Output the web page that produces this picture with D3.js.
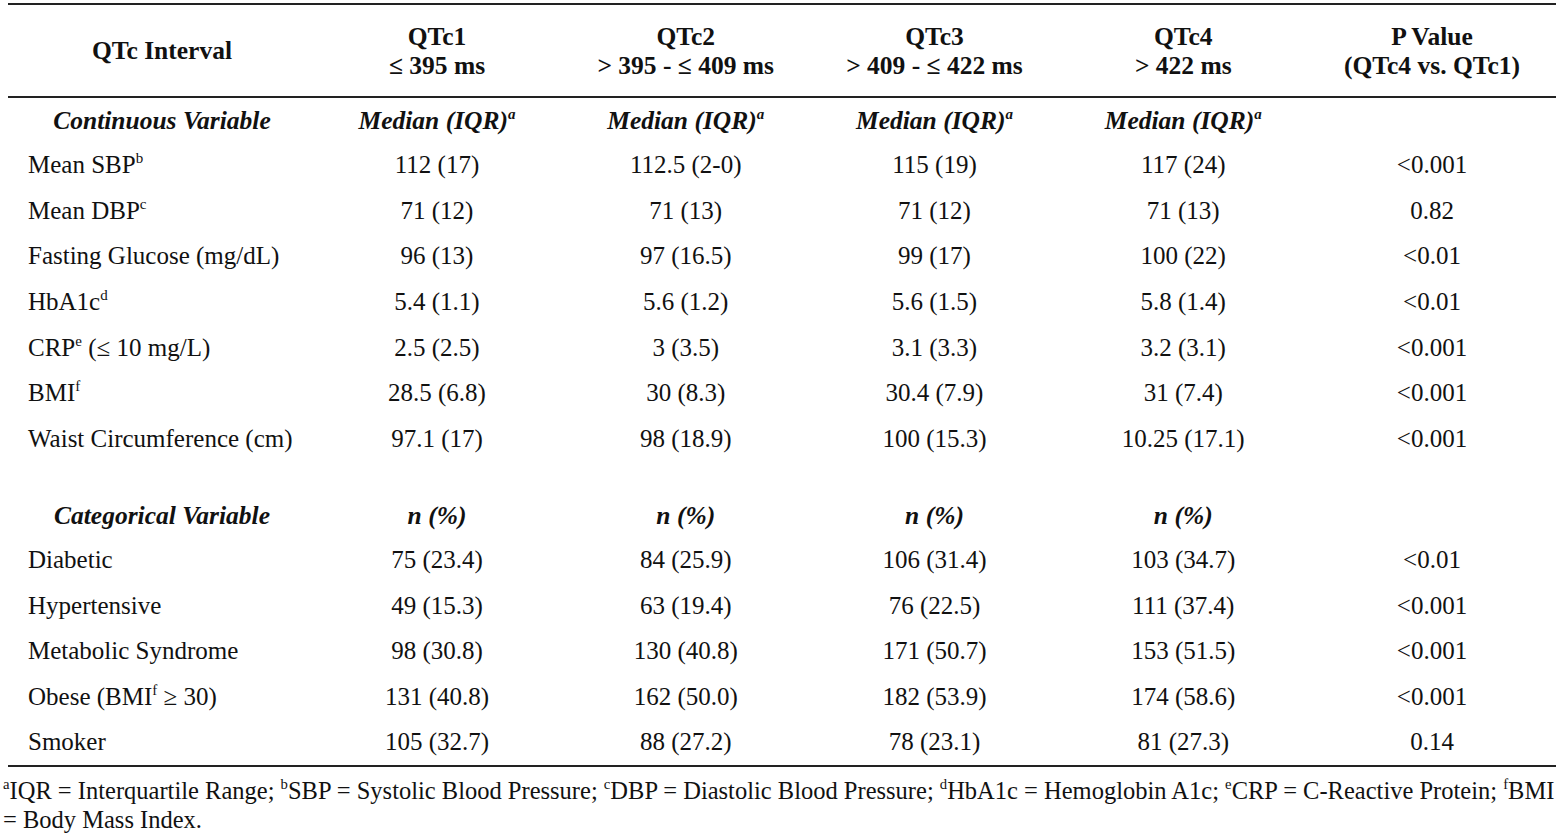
<!DOCTYPE html>
<html>
<head>
<meta charset="utf-8">
<script src="https://cdn.jsdelivr.net/npm/d3@7"></script>
<style>
  body { margin: 0; background: #fff; }
  svg text { font-family: "Liberation Serif", "Times New Roman", serif; fill: #111; }
</style>
</head>
<body>
<svg id="chart"></svg>
<script>
const width = 1560;
const height = 837;

// Column headers (two lines each)
const columnTitles = ["QTc1", "QTc2", "QTc3", "QTc4", "P Value"];
const columnSubtitles = ["\u2264 395 ms", "> 395 - \u2264 409 ms", "> 409 - \u2264 422 ms", "> 422 ms", "(QTc4 vs. QTc1)"];

// Continuous variables: label, superscript, rest of label
const contLabels = [
    ["Mean SBP", "b", ""],
    ["Mean DBP", "c", ""],
    ["Fasting Glucose (mg/dL)", "", ""],
    ["HbA1c", "d", ""],
    ["CRP", "e", " (\u2264 10 mg/L)"],
    ["BMI", "f", ""],
    ["Waist Circumference (cm)", "", ""]
];
const contQTc1 = ["112 (17)", "71 (12)", "96 (13)", "5.4 (1.1)", "2.5 (2.5)", "28.5 (6.8)", "97.1 (17)"];
const contQTc2 = ["112.5 (2-0)", "71 (13)", "97 (16.5)", "5.6 (1.2)", "3 (3.5)", "30 (8.3)", "98 (18.9)"];
const contQTc3 = ["115 (19)", "71 (12)", "99 (17)", "5.6 (1.5)", "3.1 (3.3)", "30.4 (7.9)", "100 (15.3)"];
const contQTc4 = ["117 (24)", "71 (13)", "100 (22)", "5.8 (1.4)", "3.2 (3.1)", "31 (7.4)", "10.25 (17.1)"];
const contP = ["<0.001", "0.82", "<0.01", "<0.01", "<0.001", "<0.001", "<0.001"];

// Categorical variables
const catLabels = [
    ["Diabetic", "", ""],
    ["Hypertensive", "", ""],
    ["Metabolic Syndrome", "", ""],
    ["Obese (BMI", "f", " \u2265 30)"],
    ["Smoker", "", ""]
];
const catQTc1 = ["75 (23.4)", "49 (15.3)", "98 (30.8)", "131 (40.8)", "105 (32.7)"];
const catQTc2 = ["84 (25.9)", "63 (19.4)", "130 (40.8)", "162 (50.0)", "88 (27.2)"];
const catQTc3 = ["106 (31.4)", "76 (22.5)", "171 (50.7)", "182 (53.9)", "78 (23.1)"];
const catQTc4 = ["103 (34.7)", "111 (37.4)", "153 (51.5)", "174 (58.6)", "81 (27.3)"];
const catP = ["<0.01", "<0.001", "<0.001", "<0.001", "0.14"];

// Footnote pieces: [superscript, text]
const footnotes = [
    ["a", "IQR = Interquartile Range; "],
    ["b", "SBP = Systolic Blood Pressure; "],
    ["c", "DBP = Diastolic Blood Pressure; "],
    ["d", "HbA1c = Hemoglobin A1c; "],
    ["e", "CRP = C-Reactive Protein; "],
    ["f", "BMI"]
];

const fontSize = 25;
const headSize = 25.5;

const svg = d3.select("#chart")
    .attr("width", width)
    .attr("height", height);

// Horizontal position of each column centre
const x = d3.scalePoint()
    .domain(columnTitles)
    .range([437, 1432]);

// Vertical position of rows (centre lines)
const yCont = d3.scaleLinear().domain([0, 6]).range([165, 439]);
const yCat = d3.scaleLinear().domain([0, 4]).range([560, 742]);
const base = 8; // centre -> baseline offset

// Rules
const rules = [4, 97, 766];
svg.append("g")
    .selectAll("line")
    .data(rules)
    .join("line")
    .attr("x1", 8)
    .attr("x2", 1556)
    .attr("y1", d => d)
    .attr("y2", d => d)
    .attr("stroke", "#222")
    .attr("stroke-width", 2);

// Header
svg.append("text")
    .attr("x", 162)
    .attr("y", 51 + base)
    .attr("text-anchor", "middle")
    .attr("font-weight", "bold")
    .attr("font-size", headSize)
    .text("QTc Interval");

const head = svg.append("g")
    .selectAll("g")
    .data(columnTitles)
    .join("g");
head.append("text")
    .attr("x", d => x(d))
    .attr("y", 37 + base)
    .attr("text-anchor", "middle")
    .attr("font-weight", "bold")
    .attr("font-size", headSize)
    .text(d => d);
head.append("text")
    .attr("x", d => x(d))
    .attr("y", 66 + base)
    .attr("text-anchor", "middle")
    .attr("font-weight", "bold")
    .attr("font-size", headSize)
    .text((d, i) => columnSubtitles[i]);

// Section headers
function sectionHeader(y, title, colText, sup) {
    svg.append("text")
        .attr("x", 162)
        .attr("y", y + base)
        .attr("text-anchor", "middle")
        .attr("font-weight", "bold")
        .attr("font-style", "italic")
        .attr("font-size", headSize)
        .text(title);
    columnTitles.slice(0, 4).forEach(c => {
        const t = svg.append("text")
            .attr("x", x(c))
            .attr("y", y + base)
            .attr("text-anchor", "middle")
            .attr("font-weight", "bold")
            .attr("font-style", "italic")
            .attr("font-size", headSize);
        t.append("tspan").text(colText);
        if (sup) {
            t.append("tspan")
                .attr("dy", -10)
                .attr("font-size", 15)
                .text(sup);
        }
    });
}
sectionHeader(121, "Continuous Variable", "Median (IQR)", "a");
sectionHeader(516, "Categorical Variable", "n (%)", "");

// Body rows
function drawRows(labels, cols, yScale) {
    const rows = svg.append("g")
        .selectAll("g")
        .data(labels)
        .join("g")
        .attr("transform", (d, i) => `translate(0,${yScale(i) + base})`);

    rows.append("text")
        .attr("x", 28)
        .attr("font-size", fontSize)
        .each(function (d) {
            const t = d3.select(this);
            t.append("tspan").text(d[0]);
            if (d[1]) {
                t.append("tspan").attr("dy", -10).attr("font-size", 15).text(d[1]);
            }
            if (d[2]) {
                t.append("tspan").attr("dy", d[1] ? 10 : 0).text(d[2]);
            }
        });

    cols.forEach((vals, ci) => {
        rows.append("text")
            .attr("x", x(columnTitles[ci]))
            .attr("text-anchor", "middle")
            .attr("font-size", fontSize)
            .text((d, i) => vals[i]);
    });
}
drawRows(contLabels, [contQTc1, contQTc2, contQTc3, contQTc4, contP], yCont);
drawRows(catLabels, [catQTc1, catQTc2, catQTc3, catQTc4, catP], yCat);

// Footnote: the original uses a narrow face, so squeeze the group to the line width
const fnGroup = svg.append("g");
const fn = fnGroup.append("text")
    .attr("x", 0)
    .attr("y", 791 + base)
    .attr("font-size", fontSize);
footnotes.forEach(f => {
    fn.append("tspan").attr("dy", -10).attr("font-size", 15).text(f[0]);
    fn.append("tspan").attr("dy", 10).text(f[1]);
});
const fn2 = fnGroup.append("text")
    .attr("x", 0)
    .attr("y", 820 + base)
    .attr("font-size", fontSize)
    .text("= Body Mass Index.");
const sx = 1552 / fn.node().getComputedTextLength();
fnGroup.attr("transform", `translate(3,0) scale(${sx},1)`);
</script>
</body>
</html>
